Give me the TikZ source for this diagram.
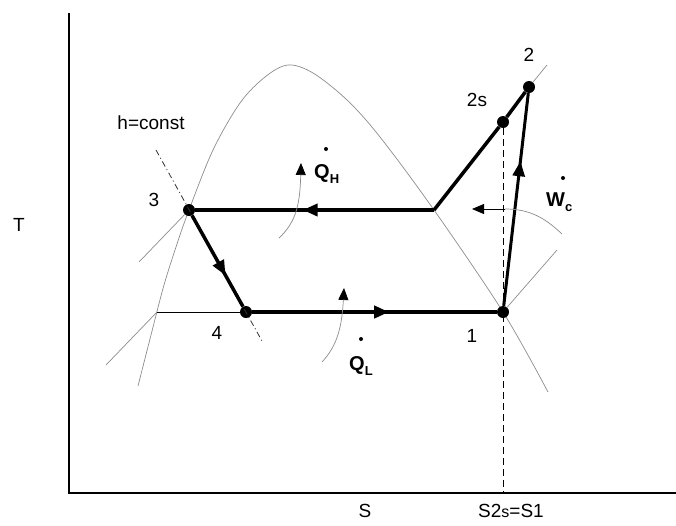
\documentclass[tikz,border=0pt]{standalone}
\usepackage{fontspec}
\setmainfont{Liberation Sans}
\usetikzlibrary{arrows.meta,decorations.markings}
\tikzset{
  pt/.style={circle,fill=black,inner sep=0pt,minimum size=12pt},
  thin gray/.style={draw=black!45,line width=0.7pt},
  cyc/.style={draw=black,line width=#1},
  lbl/.style={font=\fontsize{19}{21}\selectfont,inner sep=0pt},
  qlbl/.style={font=\bfseries\fontsize{20}{22}\selectfont,inner sep=0pt,anchor=base west},
  tipA/.style={-{Triangle[length=12pt,width=10pt,black]}},
  midarrow/.style={postaction={decorate},decoration={markings,mark=at position #1 with {\arrow{Triangle[length=15pt,width=12pt]}}}},
  axis/.style={draw=black,line width=1.6pt},
}
\begin{document}
\begin{tikzpicture}[x=1pt,y=-1pt]
\useasboundingbox (0,0) rectangle (676,525);
% axes
\coordinate (o) at (69,493);
\coordinate (ytop) at (69,13);
\coordinate (xend) at (676,493);
\draw[axis] (ytop) -- (o) -- (xend);
% dome
\draw[thin gray] plot[smooth,tension=0.55] coordinates {(138,386) (151,335) (164,285) (177,244) (189,210) (213,150) (240,103) (265,77) (288,65) (313,73) (347,100) (380,137) (434,210) (503,312) (548,392)};
% named points
\node[pt] (p3) at (189,210) {};
\node[pt] (p4) at (246,312) {};
\node[pt] (p1) at (503,312) {};
\node[pt] (p2s) at (503,122) {};
\node[pt] (p2) at (529,87) {};
\coordinate (v) at (434,210);
\coordinate (s1) at (503,493);
\coordinate (l3) at (139,262);
\coordinate (d4) at (157,312);
\coordinate (l4) at (106,365);
\coordinate (r1) at (557,250);
\coordinate (r2) at (547,65);
\coordinate (h1) at (156,150);
\coordinate (h2) at (262,341);
% auxiliary lines
\draw[thin gray] (p3) -- (l3);
\draw[thin gray] (d4) -- (l4);
\draw[black,line width=0.8pt] (p4) -- (d4);
\draw[thin gray] (p1) -- (r1);
\draw[thin gray] (p2) -- (r2);
\draw[black!80,line width=0.8pt,dash pattern=on 6pt off 3pt on 1pt off 3pt] (h1) -- (h2);
% dashed isentrope
\draw[black,line width=1pt,dash pattern=on 7pt off 4pt] (p2s) -- (s1);
% cycle
\draw[cyc=4.5pt,midarrow=0.55] (v) -- (p3);
\draw[cyc=3.5pt,midarrow=0.66] (p3) -- (p4);
\draw[cyc=4.5pt,midarrow=0.56] (p4) -- (p1);
\draw[cyc=3pt,midarrow=0.68] (p1) -- (p2);
\draw[cyc=3.5pt,line join=round] (v) -- (p2s) -- (p2);
% heat and work arrows
\coordinate (qh0) at (279,238);
\coordinate (qh1) at (301,163);
\draw[thin gray,tipA] (qh0) .. controls (296,222) and (300,205) .. (qh1);
\coordinate (ql0) at (322,362);
\coordinate (ql1) at (344,288);
\draw[thin gray,tipA] (ql0) .. controls (338,345) and (342,325) .. (ql1);
\coordinate (w0) at (562,234);
\coordinate (w1) at (505,209);
\coordinate (w2) at (472,209);
\draw[thin gray] (w0) .. controls (545,218) and (530,209) .. (w1);
\draw[black,line width=0.8pt,tipA] (w1) -- (w2);
% labels
\node[lbl] (t3) at (154,200) {3};
\node[lbl] (t4) at (217,333) {4};
\node[lbl] (t1) at (472,336) {1};
\node[lbl] (t2s) at (477,100) {2s};
\node[lbl] (t2) at (529,55) {2};
\node[lbl] (th) at (151,123) {h=const};
\node[lbl] (tT) at (19,225) {T};
\node[lbl] (tS) at (365,511) {S};
\node[lbl] (tS2) at (511,511) {S2{\fontsize{16}{17}\selectfont s}=S1};
\node[qlbl] (qH) at (314,178) {Q\raisebox{-5pt}{\fontsize{13}{13}\selectfont H}};
\fill (326,149) circle (2pt);
\node[qlbl] (qL) at (349,370) {Q\raisebox{-5pt}{\fontsize{13}{13}\selectfont L}};
\fill (361,339) circle (2pt);
\node[qlbl] (wC) at (546,206) {W\raisebox{-5pt}{\fontsize{13}{13}\selectfont c}};
\fill (563,178) circle (2pt);
\end{tikzpicture}
\end{document}
